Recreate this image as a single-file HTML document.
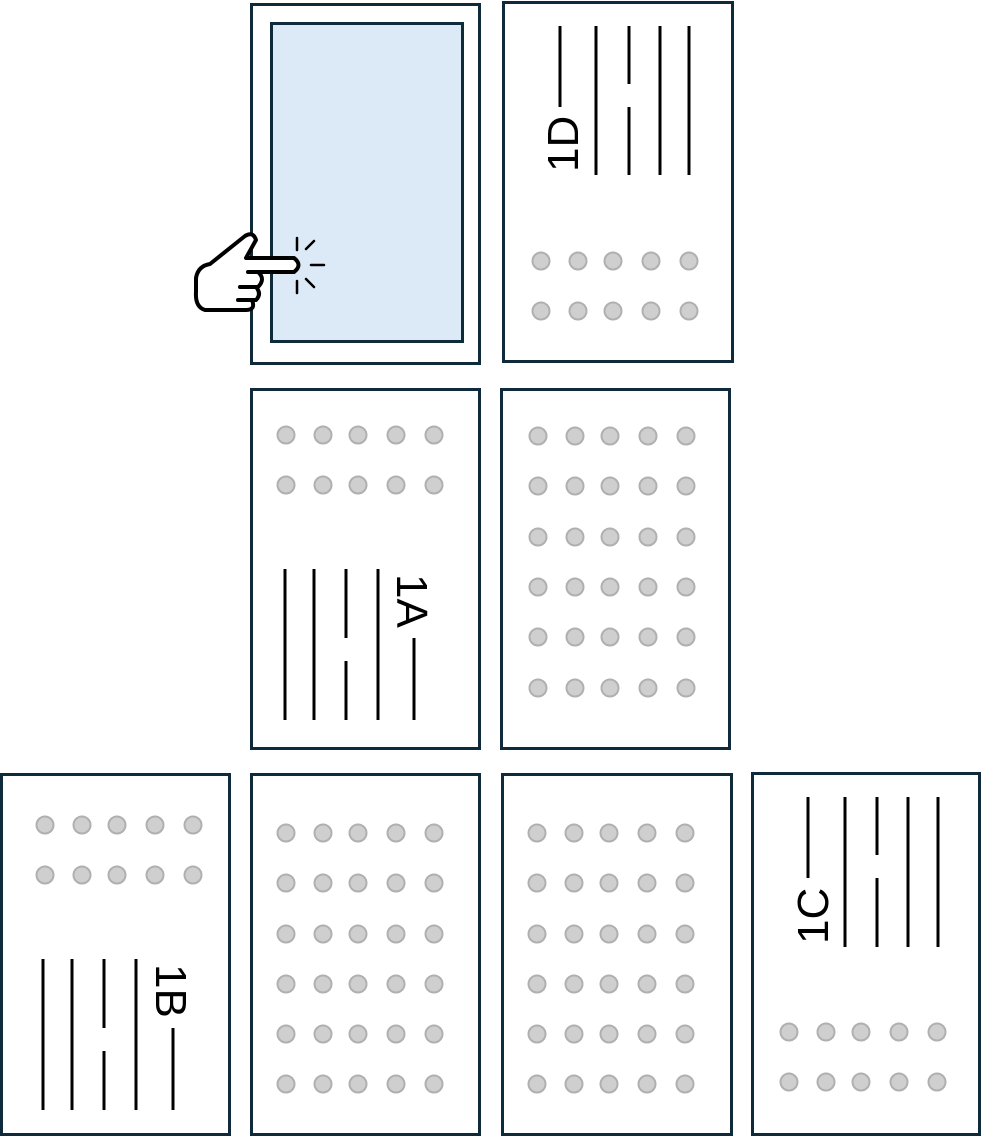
<!DOCTYPE html>
<html><head><meta charset="utf-8"><style>
html,body{margin:0;padding:0;background:#fff;}
svg{display:block;}
text{font-family:"Liberation Sans","DejaVu Sans",sans-serif;font-size:44px;fill:#000;}
</style></head><body>
<svg width="982" height="1136" viewBox="0 0 982 1136" xmlns="http://www.w3.org/2000/svg">
<defs>
<g id="r">
<circle cx="0" cy="0" r="8.5"/><circle cx="37" cy="0" r="8.5"/><circle cx="72" cy="0" r="8.5"/><circle cx="110" cy="0" r="8.5"/><circle cx="148" cy="0" r="8.5"/>
</g>
</defs>
<g fill="none" stroke="#0f2a3a" stroke-width="3">
<rect x="251.5" y="4.5" width="228" height="359"/>
<rect x="271.5" y="23.5" width="191" height="318" fill="#dce9f6"/>
<rect x="503.5" y="2.5" width="229" height="359"/>
<rect x="251.5" y="389.5" width="228" height="359"/>
<rect x="501.5" y="389.5" width="228" height="359"/>
<rect x="1.5" y="774.5" width="228" height="360"/>
<rect x="251.5" y="774.5" width="228" height="360"/>
<rect x="502.5" y="774.5" width="229" height="360"/>
<rect x="752.5" y="773.5" width="227" height="361"/>
</g>
<g fill="#cfcfcf" stroke="#b0b0b0" stroke-width="2">
<use href="#r" x="541" y="261"/><use href="#r" x="541" y="311"/>
<use href="#r" x="286" y="435"/><use href="#r" x="286" y="485"/>
<use href="#r" x="538" y="436"/><use href="#r" x="538" y="486"/><use href="#r" x="538" y="537"/><use href="#r" x="538" y="587"/><use href="#r" x="538" y="637"/><use href="#r" x="538" y="688"/>
<use href="#r" x="45" y="825"/><use href="#r" x="45" y="875"/>
<use href="#r" x="286" y="833"/><use href="#r" x="286" y="883"/><use href="#r" x="286" y="934"/><use href="#r" x="286" y="984"/><use href="#r" x="286" y="1034"/><use href="#r" x="286" y="1084"/>
<use href="#r" x="537" y="833"/><use href="#r" x="537" y="883"/><use href="#r" x="537" y="934"/><use href="#r" x="537" y="984"/><use href="#r" x="537" y="1034"/><use href="#r" x="537" y="1084"/>
<use href="#r" x="789" y="1032"/><use href="#r" x="789" y="1082"/>
</g>
<g stroke="#000" stroke-width="3">
<line x1="560" y1="26" x2="560" y2="107"/>
<line x1="596" y1="26" x2="596" y2="175"/>
<line x1="629" y1="26" x2="629" y2="84"/><line x1="629" y1="107" x2="629" y2="175"/>
<line x1="660" y1="26" x2="660" y2="175"/>
<line x1="689" y1="26" x2="689" y2="175"/>
<line x1="285" y1="569" x2="285" y2="720"/>
<line x1="314" y1="569" x2="314" y2="720"/>
<line x1="346" y1="569" x2="346" y2="638"/><line x1="346" y1="661" x2="346" y2="720"/>
<line x1="378" y1="569" x2="378" y2="720"/>
<line x1="414" y1="638" x2="414" y2="720"/>
<line x1="43" y1="959" x2="43" y2="1110"/>
<line x1="72" y1="959" x2="72" y2="1110"/>
<line x1="104" y1="959" x2="104" y2="1028"/><line x1="104" y1="1051" x2="104" y2="1110"/>
<line x1="136" y1="959" x2="136" y2="1110"/>
<line x1="173" y1="1028" x2="173" y2="1110"/>
<line x1="808" y1="797" x2="808" y2="878"/>
<line x1="845" y1="797" x2="845" y2="947"/>
<line x1="877" y1="797" x2="877" y2="855"/><line x1="877" y1="878" x2="877" y2="947"/>
<line x1="908" y1="797" x2="908" y2="947"/>
<line x1="938" y1="797" x2="938" y2="947"/>
</g>
<text transform="translate(578,172) rotate(-90)">1D</text>
<text transform="translate(397,574) rotate(90)">1A</text>
<text transform="translate(156,964) rotate(90)">1B</text>
<text transform="translate(828,944) rotate(-90)">1C</text>
<g stroke="#000" stroke-width="4" stroke-linejoin="round" stroke-linecap="round">
<path fill="#fff" d="M210,264 L245,236 Q253,231 256,240 L246,258 L294,258 Q303,265 294,272 L258,272 Q266,279 258,287 L256,287 Q262,294 256,300 L252,300 Q256,310 246,310 L205,310 Q195,307 196,292 L196,278 Q198,266 210,264 Z"/>
<path fill="none" d="M248,272 L258,272 M240,287 L256,287 M238,300 L252,300"/>
<path fill="none" stroke-width="2.5" d="M297,238 L297,250 M306,249 L314,241 M311,265 L324,265 M306,279 L314,287 M297,281 L297,293"/>
</g>
</svg>
</body></html>
